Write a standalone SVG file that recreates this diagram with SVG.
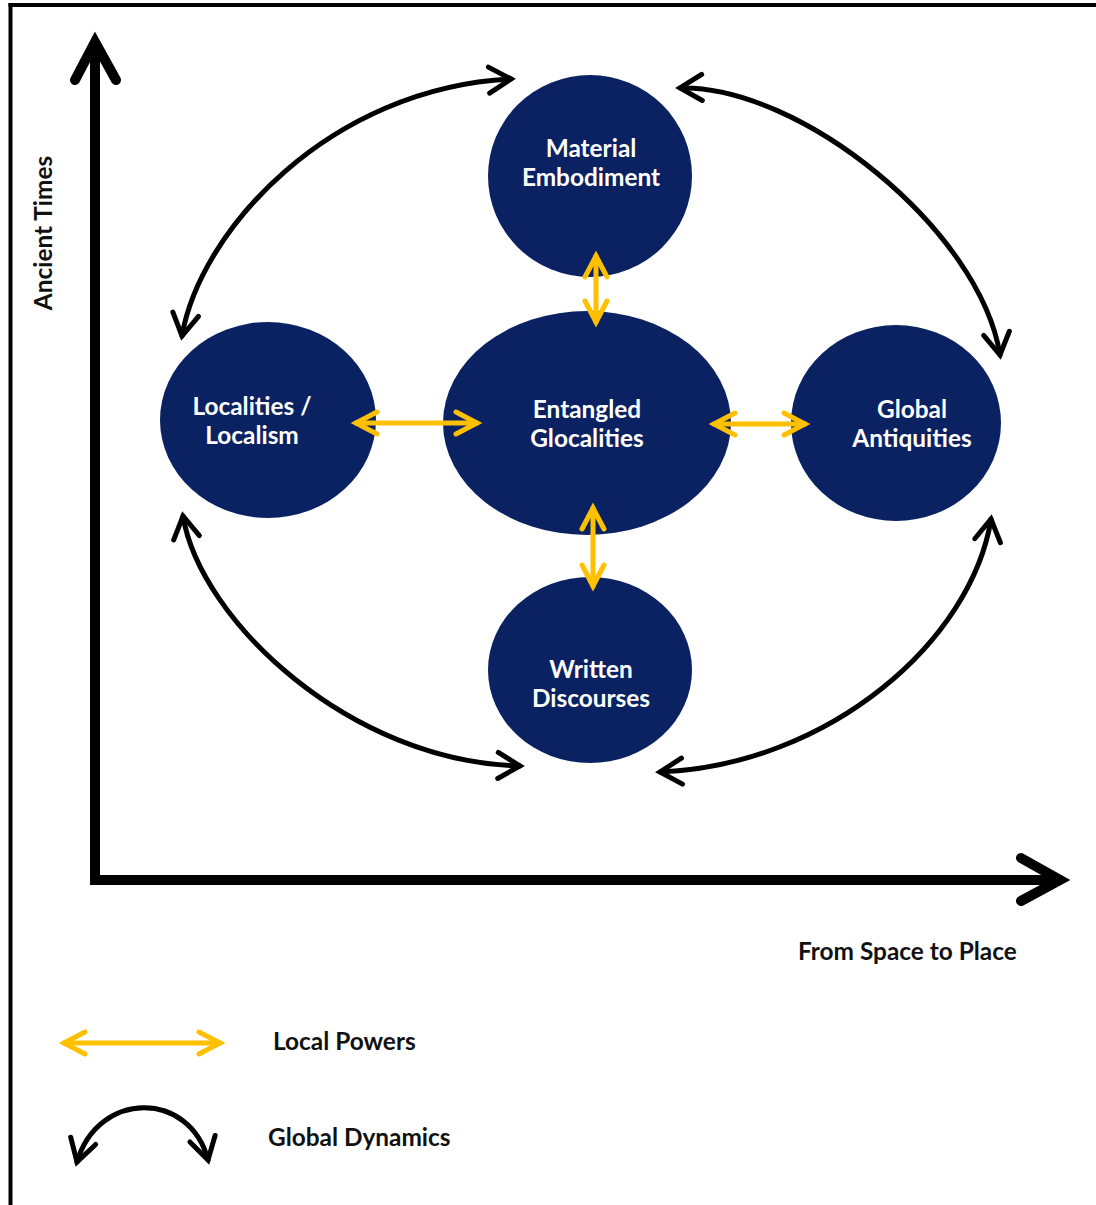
<svg xmlns="http://www.w3.org/2000/svg" width="1096" height="1205" viewBox="0 0 1096 1205">
<style>
.node{fill:#0b2262}
.nt{fill:#fff;font-family:Lato,"Open Sans","Liberation Sans",sans-serif;font-weight:bold;font-size:24.4px;text-anchor:middle}
.lbl{fill:#111;font-family:Lato,"Open Sans","Liberation Sans",sans-serif;font-weight:bold;font-size:24.4px}
.gold{fill:none;stroke:#FFC000;stroke-width:5;stroke-linecap:round;marker-start:url(#yh);marker-end:url(#yh)}
.blk{fill:none;stroke:#000;stroke-width:5;stroke-linecap:round;marker-start:url(#bh);marker-end:url(#bh)}
.axis{fill:none;stroke:#000;stroke-width:10;stroke-linecap:butt}
.ah{fill:none;stroke:#000;stroke-width:10;stroke-linecap:round;stroke-linejoin:miter}
</style>
<defs>
<marker id="yh" markerUnits="userSpaceOnUse" viewBox="-30 -20 40 40" markerWidth="40" markerHeight="40" refX="0" refY="0" orient="auto-start-reverse">
<path d="M-21,-11 L0,0 L-21,11" fill="none" stroke="#FFC000" stroke-width="5" stroke-linecap="round" stroke-linejoin="miter"/>
</marker>
<marker id="bh" markerUnits="userSpaceOnUse" viewBox="-30 -20 40 40" markerWidth="40" markerHeight="40" refX="0" refY="0" orient="auto-start-reverse">
<path d="M-22,-13 L0,0 L-22,13" fill="none" stroke="#000" stroke-width="5" stroke-linecap="round" stroke-linejoin="miter"/>
</marker>
</defs>
<rect width="1096" height="1205" fill="#fff"/>
<g id="frame">
<line x1="8.5" y1="5" x2="1096" y2="5" stroke="#000" stroke-width="4"/>
<line x1="10.5" y1="3" x2="10.5" y2="1205" stroke="#000" stroke-width="4"/>
</g>
<g id="axes">
<line class="axis" x1="95" y1="46" x2="95" y2="880"/>
<line class="axis" x1="90" y1="880" x2="1056" y2="880"/>
<polyline class="ah" points="75,80 95,42 116,80"/>
<polyline class="ah" points="1021,858 1060,880 1021,901"/>
<text class="lbl" transform="translate(52,233) rotate(-90)" text-anchor="middle">Ancient Times</text>
<text class="lbl" x="798" y="960">From Space to Place</text>
</g>
<g id="material">
<ellipse class="node" cx="590" cy="176" rx="102" ry="101"/>
<text class="nt" x="591" y="157">Material</text>
<text class="nt" x="591" y="186">Embodiment</text>
</g>
<g id="entangled">
<ellipse class="node" cx="587" cy="423" rx="144" ry="112"/>
<text class="nt" x="587" y="418">Entangled</text>
<text class="nt" x="587" y="447">Glocalities</text>
</g>
<g id="localities">
<ellipse class="node" cx="268" cy="420" rx="108" ry="98"/>
<text class="nt" x="252" y="415">Localities /</text>
<text class="nt" x="252" y="444">Localism</text>
</g>
<g id="global">
<ellipse class="node" cx="896" cy="423" rx="105" ry="98"/>
<text class="nt" x="912" y="418">Global</text>
<text class="nt" x="912" y="447">Antiquities</text>
</g>
<g id="written">
<ellipse class="node" cx="590" cy="670" rx="102" ry="93"/>
<text class="nt" x="591" y="678">Written</text>
<text class="nt" x="591" y="707">Discourses</text>
</g>
<g id="connectors">
<line class="gold" x1="356" y1="423" x2="477" y2="423"/>
<line class="gold" x1="714" y1="424" x2="805" y2="424"/>
<line class="gold" x1="596" y1="256" x2="596" y2="322"/>
<line class="gold" x1="593" y1="508" x2="593" y2="586"/>
<path class="blk" d="M182,336 C200,230 330,88 511,79"/>
<path class="blk" d="M680,88 C800,85 980,230 1000,355"/>
<path class="blk" d="M183,516 C200,620 350,762 520,766"/>
<path class="blk" d="M660,772 C830,765 972,640 991,519"/>
</g>
<g id="legend">
<line class="gold" x1="64" y1="1043" x2="220" y2="1043"/>
<text class="lbl" x="273" y="1050">Local Powers</text>
<path class="blk" d="M77,1162 C98,1090 190,1090 208,1160"/>
<text class="lbl" x="268" y="1146">Global Dynamics</text>
</g>
</svg>
